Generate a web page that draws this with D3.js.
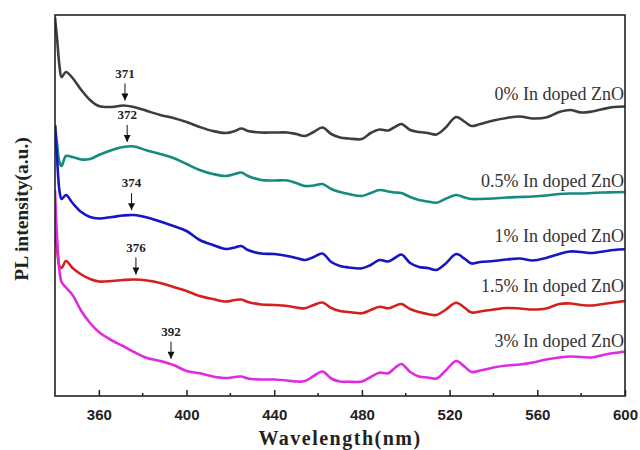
<!DOCTYPE html>
<html>
<head>
<meta charset="utf-8">
<script src="https://cdn.jsdelivr.net/npm/d3@7"></script>
<style>
  body { margin: 0; background: #fff; }
  svg { display: block; }
</style>
</head>
<body>
<svg id="chart" width="640" height="450"></svg>
<script>
// wavelength grid (nm) shared by all spectra
const wavelength = [340, 341, 342, 343, 345, 348, 352, 356, 360, 366, 371, 376, 382, 388, 394, 400,
  406, 412, 418, 422, 425, 428, 434, 440, 446, 450, 454, 458, 462, 466, 470, 474,
  480, 484, 488, 492, 495, 498, 502, 506, 510, 514, 518, 523, 527, 530, 534, 540,
  546, 552, 558, 564, 570, 575, 580, 585, 590, 595, 600];

// PL intensity (a.u., stacked offsets as in the figure)
const pl0 = [379, 356, 331, 319, 324, 318, 306, 296, 290, 289, 290.5, 289, 285, 281, 278, 274,
  269, 265, 263, 265, 267.5, 265, 263.5, 263.5, 263.5, 262, 260, 264, 268.5, 262, 258.5, 257.5,
  257, 263, 266.5, 265.5, 269, 272, 266, 264, 263, 261.5, 268, 279, 274, 270, 272, 275.5,
  278, 279.5, 277.5, 278.5, 284, 286, 283.5, 284.5, 287, 289, 289.5];
const pl05 = [271, 251, 234, 230, 240, 239, 236.5, 237, 241, 246, 249, 249.5, 245.5, 242, 238, 232,
  226, 222, 220, 222, 223.5, 220, 216, 215.5, 215.5, 213, 210, 210.5, 212, 207, 204, 202,
  200, 203, 206, 204.5, 203.5, 203, 199, 196, 194.5, 193.3, 197, 201, 198.5, 197, 197, 197.5,
  198.5, 199, 199.5, 200.5, 202, 202.5, 202.5, 203, 203.5, 203.7, 204];
const pl1 = [271, 236, 206, 197, 201, 193, 184, 179, 177.5, 179, 180.5, 181, 178.5, 174.5, 170, 165,
  156, 151, 147, 148.5, 150, 146, 142.5, 142, 140, 138, 136, 139, 142.5, 134, 130, 128.5,
  127.7, 131, 136, 134.5, 138, 141.5, 133, 129, 128, 126, 132, 142, 137, 132.5, 134, 135,
  136.5, 137.5, 135.5, 138, 142, 144.5, 144, 143, 144.5, 146, 146.7];
const pl15 = [166, 146, 130, 128, 135, 128, 121.5, 117, 114.5, 115, 116, 116.5, 115.5, 113, 109, 105,
  100, 97, 94.5, 96, 96.5, 94, 91.5, 91, 90, 88.5, 87.7, 91, 93.5, 88, 85, 84,
  82.7, 86, 89.3, 87.7, 90, 92, 87, 84, 82, 81, 86, 93.3, 88, 83.5, 84.5, 86.5,
  88, 87.5, 86.5, 87.5, 92, 92.5, 91, 90.5, 92, 93.5, 95];
const pl3 = [206, 156, 126, 114, 108.5, 101, 85, 73, 64, 55.5, 50, 44, 38, 35, 31, 25,
  22.7, 19.5, 18, 19, 19.5, 17.5, 16.5, 16.5, 15.5, 14.5, 15, 20, 24.5, 17.5, 14.5, 14.2,
  14.5, 19, 23.3, 22.7, 28, 32, 24, 19.5, 18.5, 17.5, 25, 35, 29, 24, 25.5, 28.5,
  30.5, 31.5, 33.5, 36.5, 38.5, 39.5, 39, 38.5, 41, 43, 44.3];

const seriesNames = ["0% In doped ZnO", "0.5% In doped ZnO", "1% In doped ZnO", "1.5% In doped ZnO", "3% In doped ZnO"];
const seriesValues = [pl0, pl05, pl1, pl15, pl3];
const seriesColors = ["#3d3d3d", "#178a80", "#1515c2", "#d52020", "#e02ae0"];
// where each series name sits (a.u.)
const nameLevel = [296.5, 209.3, 154.3, 104.3, 49.3];

// marked band-edge peaks
const peakNm = [371, 372, 374, 376, 392];
const peakLabels = ["371", "372", "374", "376", "392"];

const majorTicks = [360, 400, 440, 480, 520, 560, 600];
const minorTicks = [380, 420, 460, 500, 540, 580];

const svg = d3.select("#chart");
const margin = {left: 55, top: 15, right: 15, bottom: 54};
const W = 640, H = 450;
const x = d3.scaleLinear().domain([340, 600]).range([margin.left, W - margin.right]);
const y = d3.scaleLinear().domain([0, 381]).range([H - margin.bottom, margin.top]);

svg.append("defs").append("clipPath").attr("id", "clip")
  .append("rect")
  .attr("x", x(340)).attr("y", y(381))
  .attr("width", x(600) - x(340)).attr("height", y(0) - y(381));

svg.append("defs").append("marker")
  .attr("id", "head")
  .attr("viewBox", "0 0 10 10")
  .attr("refX", 10).attr("refY", 5)
  .attr("markerWidth", 8).attr("markerHeight", 7)
  .attr("markerUnits", "userSpaceOnUse")
  .attr("orient", "auto")
  .append("path").attr("d", "M0,0L10,5L0,10Z").attr("fill", "#111");

const line = d3.line()
  .x((d, i) => x(wavelength[i]))
  .y(d => y(d))
  .curve(d3.curveCatmullRom.alpha(0.5));

const plot = svg.append("g").attr("clip-path", "url(#clip)");
plot.selectAll("path.spec").data(seriesValues)
  .enter()
  .append("path")
  .attr("class", "spec")
  .attr("d", line)
  .attr("fill", "none")
  .attr("stroke", (d, i) => seriesColors[i])
  .attr("stroke-width", 2.6)
  .attr("stroke-linejoin", "round");

// frame
svg.append("rect")
  .attr("x", x(340)).attr("y", y(381))
  .attr("width", x(600) - x(340)).attr("height", y(0) - y(381))
  .attr("fill", "none").attr("stroke", "#222").attr("stroke-width", 1.6);

// bottom axis, ticks pointing inward
const xAxis = d3.axisBottom(x).tickValues(majorTicks).tickSize(-6).tickPadding(13).tickFormat(d3.format("d"));
const gx = svg.append("g").attr("transform", `translate(0,${y(0)})`).call(xAxis);
gx.select(".domain").remove();
gx.selectAll(".tick line").attr("stroke", "#222").attr("stroke-width", 1.5);
gx.selectAll(".tick text")
  .attr("font-family", "Liberation Sans, Arial, sans-serif")
  .attr("font-weight", "bold")
  .attr("font-size", 15)
  .attr("fill", "#222");
gx.selectAll(".minor").data(minorTicks).enter()
  .append("line")
  .attr("class", "minor")
  .attr("x1", d => x(d)).attr("x2", d => x(d))
  .attr("y1", 0).attr("y2", -3)
  .attr("stroke", "#222").attr("stroke-width", 1.5);

// series names
svg.selectAll("text.name").data(seriesNames).enter()
  .append("text")
  .attr("class", "name")
  .attr("x", x(600) - 1)
  .attr("y", (d, i) => y(nameLevel[i]))
  .attr("text-anchor", "end")
  .attr("font-family", "Liberation Serif, Times New Roman, serif")
  .attr("font-size", 18)
  .attr("fill", "#333")
  .text(d => d);

// peak arrows
function valueAt(series, nm) {
  const i = d3.bisectLeft(wavelength, nm);
  const x0 = wavelength[i - 1], x1 = wavelength[i];
  const t = (nm - x0) / (x1 - x0);
  return series[i - 1] + t * (series[i] - series[i - 1]);
}
const ann = svg.append("g");
peakNm.forEach((nm, i) => {
  const tip = y(valueAt(seriesValues[i], nm)) - 5;
  const px = x(nm) + 2;
  ann.append("line")
    .attr("x1", px).attr("x2", px)
    .attr("y1", tip - 17).attr("y2", tip)
    .attr("stroke", "#111").attr("stroke-width", 1)
    .attr("marker-end", "url(#head)");
  ann.append("text")
    .attr("x", px).attr("y", tip - 23)
    .attr("text-anchor", "middle")
    .attr("font-family", "Liberation Serif, Times New Roman, serif")
    .attr("font-weight", "bold")
    .attr("font-size", 13)
    .attr("fill", "#222")
    .text(peakLabels[i]);
});

// axis titles
svg.append("text")
  .attr("x", (x(340) + x(600)) / 2).attr("y", 445)
  .attr("text-anchor", "middle")
  .attr("font-family", "Liberation Serif, Times New Roman, serif")
  .attr("font-weight", "bold")
  .attr("font-size", 20)
  .attr("letter-spacing", "1.5px")
  .attr("fill", "#222")
  .text("Wavelength(nm)");

svg.append("text")
  .attr("transform", `translate(28,209) rotate(-90)`)
  .attr("text-anchor", "middle")
  .attr("font-family", "Liberation Serif, Times New Roman, serif")
  .attr("font-weight", "bold")
  .attr("font-size", 19.5)
  .attr("fill", "#222")
  .text("PL intensity(a.u.)");
</script>
</body>
</html>
